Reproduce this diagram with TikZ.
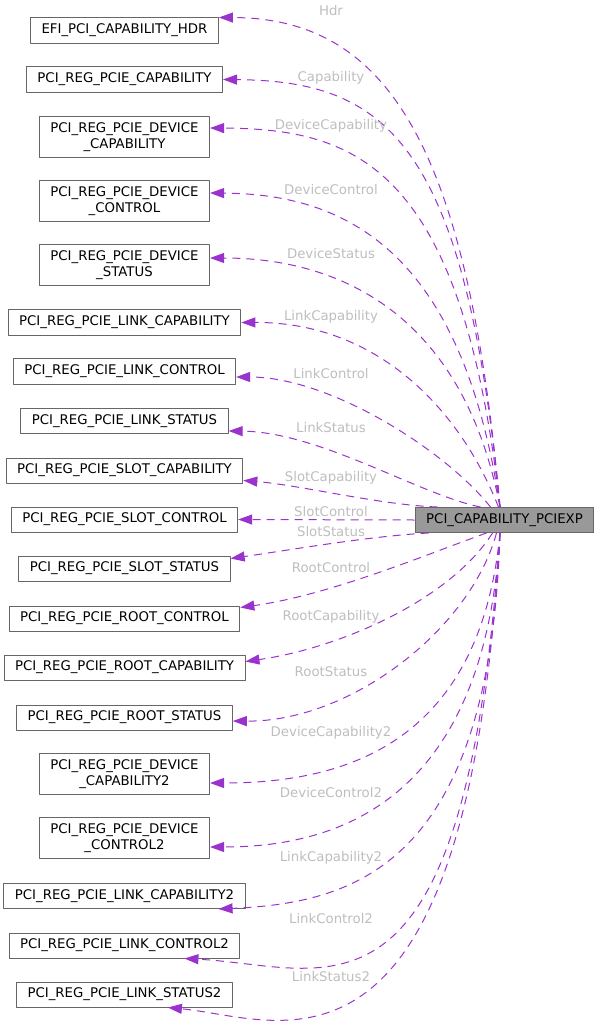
\documentclass[tikz,border=0pt]{standalone}
\usepackage{fontspec}
\setmainfont{DejaVu Sans}
\usetikzlibrary{arrows.meta}
\definecolor{edgecol}{HTML}{9A32CD}
\definecolor{boxline}{HTML}{666666}
\definecolor{mainfill}{HTML}{999999}
\definecolor{lblcol}{HTML}{BEBEBE}
\tikzset{
  box/.style={draw=boxline, fill=white, line width=1pt, inner xsep=11pt, inner ysep=6pt, minimum height=25pt, align=center},
  rel/.style={draw=edgecol, line width=1pt, dash pattern=on 8pt off 6pt, -{Triangle[length=14pt,width=10pt]}},
  lbl/.style={text=lblcol, inner sep=0pt, text height=9.5pt, text depth=0pt},
}
\begin{document}
\begin{tikzpicture}[x=1pt, y=-1pt, font=\fontsize{13.3}{15.5}\selectfont, line join=round]
		\useasboundingbox (0,0) rectangle (599,1027);
		\node[box, fill=mainfill] (main) at (504.5,520) {PCI\_CAPABILITY\_PCIEXP};
		\foreach \n/\y/\t in {hdr/30.5/EFI\_PCI\_CAPABILITY\_HDR, cap/79.5/PCI\_REG\_PCIE\_CAPABILITY,
			devcap/137/{PCI\_REG\_PCIE\_DEVICE\\\_CAPABILITY}, devctl/201/{PCI\_REG\_PCIE\_DEVICE\\\_CONTROL},
			devsta/265/{PCI\_REG\_PCIE\_DEVICE\\\_STATUS}, lnkcap/322.5/PCI\_REG\_PCIE\_LINK\_CAPABILITY,
			lnkctl/371.5/PCI\_REG\_PCIE\_LINK\_CONTROL, lnksta/421/PCI\_REG\_PCIE\_LINK\_STATUS,
			slotcap/470.5/PCI\_REG\_PCIE\_SLOT\_CAPABILITY, slotctl/519.5/PCI\_REG\_PCIE\_SLOT\_CONTROL,
			slotsta/568.5/PCI\_REG\_PCIE\_SLOT\_STATUS, rootctl/618.5/PCI\_REG\_PCIE\_ROOT\_CONTROL,
			rootcap/667.5/PCI\_REG\_PCIE\_ROOT\_CAPABILITY, rootsta/717.5/PCI\_REG\_PCIE\_ROOT\_STATUS,
			devcap2/774/{PCI\_REG\_PCIE\_DEVICE\\\_CAPABILITY2}, devctl2/838/{PCI\_REG\_PCIE\_DEVICE\\\_CONTROL2},
			lnkcap2/896/PCI\_REG\_PCIE\_LINK\_CAPABILITY2, lnkctl2/945.5/PCI\_REG\_PCIE\_LINK\_CONTROL2,
			lnksta2/994.5/PCI\_REG\_PCIE\_LINK\_STATUS2}
			\node[box] (\n) at (124.5,\y) {\t};
		\draw[rel] ([xshift=-4.5pt]main.north) .. controls (468,150) and (390,18) .. (hdr.north east);
		\draw[rel] ([xshift=-4.5pt]main.north) .. controls (465,140) and (385,81) .. (cap.east);
		\draw[rel] ([xshift=-4.5pt]main.north) .. controls (462,165) and (355,129) .. ([yshift=9pt]devcap.east);
		\draw[rel] ([xshift=-4.5pt]main.north) .. controls (462,250) and (345,194) .. ([yshift=8pt]devctl.east);
		\draw[rel] ([xshift=-4.5pt]main.north) .. controls (462,310) and (335,258) .. ([yshift=7pt]devsta.east);
		\draw[rel] ([xshift=-6pt]main.north) .. controls (456,400) and (370,322) .. (lnkcap.east);
		\draw[rel] ([xshift=-14pt]main.north) .. controls (445,450) and (330,377) .. ([yshift=-5.5pt]lnkctl.east);
		\draw[rel] ([xshift=-24pt]main.north) .. controls (420,495) and (320,432) .. ([yshift=-10pt]lnksta.east);
		\draw[rel] ([xshift=-67pt]main.north) .. controls (380,505) and (300,485) .. ([yshift=-10pt]slotcap.east);
		\draw[rel] (main.west) -- (slotctl.east);
		\draw[rel] ([xshift=-76pt]main.south) .. controls (370,536) and (290,550) .. ([yshift=10pt]slotsta.east);
		\draw[rel] ([xshift=-18pt]main.south) .. controls (425,555) and (330,595) .. ([yshift=11pt]rootctl.east);
		\draw[rel] ([xshift=-12pt]main.south) .. controls (450,600) and (340,648) .. ([yshift=6pt]rootcap.east);
		\draw[rel] ([xshift=-8pt]main.south) .. controls (470,630) and (350,722) .. ([yshift=-3.5pt]rootsta.east);
		\draw[rel] ([xshift=-4.5pt]main.south) .. controls (480,740) and (350,783) .. ([yshift=-9pt]devcap2.east);
		\draw[rel] ([xshift=-4.5pt]main.south) .. controls (485,790) and (350,847) .. ([yshift=-9pt]devctl2.east);
		\draw[rel] ([xshift=-4.5pt]main.south) .. controls (490,870) and (350,903) .. ([xshift=-27pt]lnkcap2.south east);
		\draw[rel] ([xshift=-4.5pt]main.south) .. controls (465,1050) and (330,966) .. ([xshift=-56pt]lnkctl2.south east);
		\draw[rel] ([xshift=-4.5pt]main.south) .. controls (468,1115) and (280,1018) .. ([xshift=-65pt]lnksta2.south east);
		\foreach \n/\y/\t in {hdr/11/Hdr, cap/76.5/Capability, devcap/125/DeviceCapability, devctl/190/DeviceControl,
			devsta/254/DeviceStatus, lnkcap/315.5/LinkCapability, lnkctl/374/LinkControl, lnksta/428/LinkStatus,
			slotcap/476.5/SlotCapability, slotctl/511.5/SlotControl, slotsta/531.5/SlotStatus,
			rootctl/567.5/RootControl, rootcap/615.5/RootCapability, rootsta/671.5/RootStatus,
			devcap2/731.5/DeviceCapability2, devctl2/792.5/DeviceControl2, lnkcap2/856.5/LinkCapability2,
			lnkctl2/919/LinkControl2, lnksta2/977/LinkStatus2}
			\node[lbl] (l\n) at (331,\y) {\t};
\end{tikzpicture}
\end{document}
